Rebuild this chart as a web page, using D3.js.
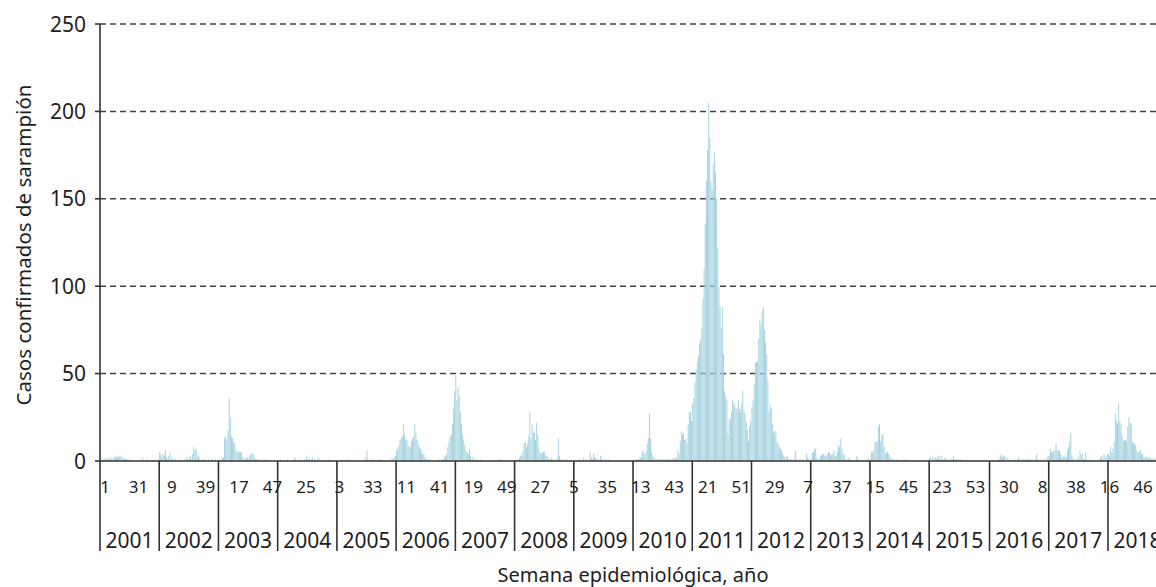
<!DOCTYPE html>
<html>
<head>
<meta charset="utf-8">
<script src="https://cdnjs.cloudflare.com/ajax/libs/d3/7.8.5/d3.min.js"></script>
<style>
	body { margin: 0; background: #fff; }
	text { font-family: "Noto Sans", sans-serif; fill: #1e1e1e; }
</style>
</head>
<body>
<svg id="chart" width="1156" height="587"></svg>
<script>
	// weekly confirmed measles cases
	var years = [2001, 2002, 2003, 2004, 2005, 2006, 2007, 2008, 2009, 2010, 2011, 2012, 2013, 2014, 2015, 2016, 2017, 2018]

	var cases2001 = [1,0,1,1,1,2,1,1,2,1, 2,1,2,3,2,2,3,2,3,2, 1,2,1,1,1,0,1,0,0,0, 0,0,0,0,0,0,0,2,0,0, 0,1,0,0,0,0,0,1,0,0, 0,1]
	var cases2002 = [5,4,2,4,3,6,2,1,3,5, 1,2,0,1,1,0,0,0,1,0, 0,0,1,1,2,1,2,3,1,4, 8,6,7,2,3,1,0,1,1,0, 1,0,0,1,0,0,1,0,0,1, 0,0]
	var cases2003 = [0,1,0,2,2,13,14,12,18,36, 25,14,13,11,10,6,5,6,5,5, 5,2,1,2,1,2,1,3,4,5, 4,2,1,1,1,0,1,0,1,0, 1,0,0,1,0,0,0,0,0,0, 0,0]
	var cases2004 = [0,0,1,0,0,0,0,0,1,0, 0,0,0,0,1,2,0,0,0,0, 1,0,0,1,0,3,1,2,0,1, 2,0,1,0,0,2,1,0,0,0, 0,0,0,0,0,1,0,0,0,0, 0,0]
	var cases2005 = [0,0,0,0,0,0,0,1,0,0, 1,0,0,0,0,0,0,0,0,0, 0,0,0,0,0,2,6,1,0,0, 1,0,1,0,0,0,1,0,1,0, 0,0,0,0,0,0,0,0,2,1, 2,3]
	var cases2006 = [6,7,9,12,13,14,21,15,13,12, 9,8,8,11,13,14,21,16,12,10, 8,7,5,4,4,2,1,1,0,1, 0,0,0,0,0,0,0,1,0,0, 1,1,2,3,4,8,11,14,15,21, 30,40]
	var cases2007 = [49,35,42,37,28,21,15,12,9,6, 5,4,7,3,1,2,1,0,1,0, 0,0,1,0,0,0,0,0,0,0, 0,0,0,0,0,0,0,1,0,1, 1,0,0,0,0,0,0,0,0,0, 0,0]
	var cases2008 = [0,1,0,1,2,3,4,6,10,11, 8,10,14,28,13,21,17,16,12,22, 15,8,5,4,5,5,5,3,3,2, 1,1,2,1,0,1,0,2,13,3, 1,0,1,0,1,0,1,0,0,0, 0,0]
	var cases2009 = [0,0,0,0,0,1,0,0,2,0, 1,0,1,0,5,2,1,4,2,2, 1,1,0,3,1,0,0,1,1,0, 0,1,0,0,0,0,0,0,0,0, 0,0,0,0,0,0,0,0,0,0, 0,0]
	var cases2010 = [0,1,0,1,1,1,2,2,6,5, 4,6,10,13,27,13,5,3,2,1, 1,0,1,1,0,1,1,1,0,1, 1,1,0,1,1,2,1,2,2,6, 4,11,17,15,16,12,13,10,21,28, 28,23]
	var cases2011 = [33,36,45,52,57,60,67,70,76,93, 110,136,160,178,205,185,160,155,170,177, 165,150,122,100,88,76,88,61,40,37, 35,15,24,24,28,35,33,32,30,30, 35,30,28,33,40,29,27,22,18,11, 20,23]
	var cases2012 = [31,35,44,56,57,57,70,81,78,86, 88,75,68,61,46,28,32,30,21,16, 17,17,11,10,8,7,6,4,3,2, 2,3,1,0,1,1,0,1,6,1, 0,0,1,1,0,1,0,0,4,2, 1,0]
	var cases2013 = [1,5,5,7,7,2,1,1,3,3, 4,4,3,3,4,5,5,3,4,4, 6,3,3,5,9,8,13,7,4,4, 1,0,1,2,1,1,0,0,0,0, 3,1,0,0,0,0,0,0,1,0, 2,1]
	var cases2014 = [1,5,5,6,11,11,11,20,21,11, 15,15,8,4,5,5,4,2,2,1, 1,1,0,1,0,1,0,0,1,0, 1,0,0,1,0,0,0,0,0,0, 0,0,0,0,0,0,0,0,0,0, 0,1]
	var cases2015 = [2,2,1,2,1,2,1,2,3,1, 3,1,1,2,1,1,1,0,1,1, 1,3,1,1,1,1,0,1,0,1, 0,0,1,0,0,0,0,0,0,0, 0,0,0,0,0,0,0,0,0,0, 0,0,0]
	var cases2016 = [0,0,0,0,0,0,0,1,1,3, 4,2,3,3,1,2,0,1,0,0, 1,0,1,0,1,2,0,1,0,1, 1,0,1,0,1,1,0,1,0,0, 1,4,1,0,0,1,0,0,1,0, 2,3]
	var cases2017 = [3,7,5,5,6,6,10,6,6,6, 4,2,2,3,2,2,6,8,11,16, 3,1,1,0,1,2,1,6,4,4, 1,1,5,1,0,0,1,0,0,0, 0,0,0,0,1,2,3,1,4,3, 2,4]
	var cases2018 = [4,3,8,5,7,11,27,23,21,33, 23,21,15,11,12,12,11,20,25,22, 21,11,10,10,9,6,5,5,6,4, 4,2,2,3,2,2,1,2,1,1, 2,1,1,1,1,1,0,1,0,0, 0,0]

	var yTicks = [0, 50, 100, 150, 200, 250]
	// every 30th epidemiological week is labelled
	var weekLabels = ["1","31","9","39","17","47","25","3","33","11","41","19","49","27","5","35","13","43","21","51","29","7","37","15","45","23","53","30","8","38","16","46"]

	var series = [cases2001, cases2002, cases2003, cases2004, cases2005, cases2006, cases2007, cases2008, cases2009,
		cases2010, cases2011, cases2012, cases2013, cases2014, cases2015, cases2016, cases2017, cases2018]

	;(function () {
		var data = [], yearStart = []
		series.forEach(function (arr, k) {
			yearStart.push({ year: years[k], first: data.length, n: arr.length })
			arr.forEach(function (v, w) {
				data.push({ i: data.length, year: years[k], week: w + 1, value: v })
			})
		})

		var svg = d3.select("#chart"),
			W = 1156,
			mLeft = 100,
			mTop = 24,
			base = 461,
			axisBottom = 551;

		var x = d3.scaleBand()
			.domain(data.map(function (d) { return d.i }))
			.range([mLeft, 1167])
			.paddingInner(0.18);

		var y = d3.scaleLinear().domain([0, 250]).range([base, mTop]);

		// labels of the inner level sit a bit tighter than the bars
		var xLab = d3.scaleLinear().domain([0, 930]).range([105, 1143]);

		// grid
		svg.append("g").selectAll("line")
			.data(yTicks.filter(function (d) { return d > 0 }))
			.enter().append("line")
			.attr("x1", mLeft).attr("x2", W)
			.attr("y1", function (d) { return y(d) }).attr("y2", function (d) { return y(d) })
			.style("stroke", "#444").style("stroke-width", 1.5)
			.style("stroke-dasharray", "6,4");

		// bars
		svg.append("g").selectAll("rect")
			.data(data)
			.enter().append("rect")
			.attr("x", function (d) { return x(d.i) })
			.attr("width", x.bandwidth())
			.attr("y", function (d) { return y(d.value) })
			.attr("height", function (d) { return base - y(d.value) })
			.style("fill", "#a2d1de");

		// axes
		var ax = svg.append("g").style("stroke", "#333").style("stroke-width", 1.6);
		ax.append("line").attr("x1", mLeft).attr("x2", mLeft).attr("y1", mTop).attr("y2", axisBottom);
		ax.selectAll(".yt").data(yTicks).enter().append("line")
			.attr("x1", mLeft - 5).attr("x2", mLeft)
			.attr("y1", function (d) { return y(d) }).attr("y2", function (d) { return y(d) });
		ax.append("line").attr("x1", mLeft).attr("x2", W).attr("y1", base).attr("y2", base);

		// year boundaries
		ax.selectAll(".yb").data(yearStart.slice(1)).enter().append("line")
			.attr("x1", function (d) { return x(d.first) }).attr("x2", function (d) { return x(d.first) })
			.attr("y1", base).attr("y2", axisBottom);

		svg.append("g").selectAll("text")
			.data(yTicks)
			.enter().append("text")
			.attr("x", 86)
			.attr("y", function (d) { return y(d) + 7.5 })
			.attr("text-anchor", "end")
			.style("font-size", "21px")
			.text(function (d) { return d });

		svg.append("g").selectAll("text")
			.data(weekLabels)
			.enter().append("text")
			.attr("x", function (d, k) { return xLab(k * 30) })
			.attr("y", 493)
			.attr("text-anchor", "middle")
			.style("font-size", "17px")
			.text(function (d) { return d });

		svg.append("g").selectAll("text")
			.data(yearStart)
			.enter().append("text")
			.attr("x", function (d) { return (x(d.first) + x(d.first + d.n - 1) + x.step()) / 2 })
			.attr("y", 548)
			.attr("text-anchor", "middle")
			.style("font-size", "21px")
			.text(function (d) { return d.year });

		svg.append("text")
			.attr("x", 633).attr("y", 582)
			.attr("text-anchor", "middle")
			.style("font-size", "20px")
			.text("Semana epidemiológica, año");

		svg.append("text")
			.attr("transform", "translate(31,245) rotate(-90)")
			.attr("text-anchor", "middle")
			.style("font-size", "20.5px")
			.text("Casos confirmados de sarampión");
	})();
</script>
</body>
</html>
